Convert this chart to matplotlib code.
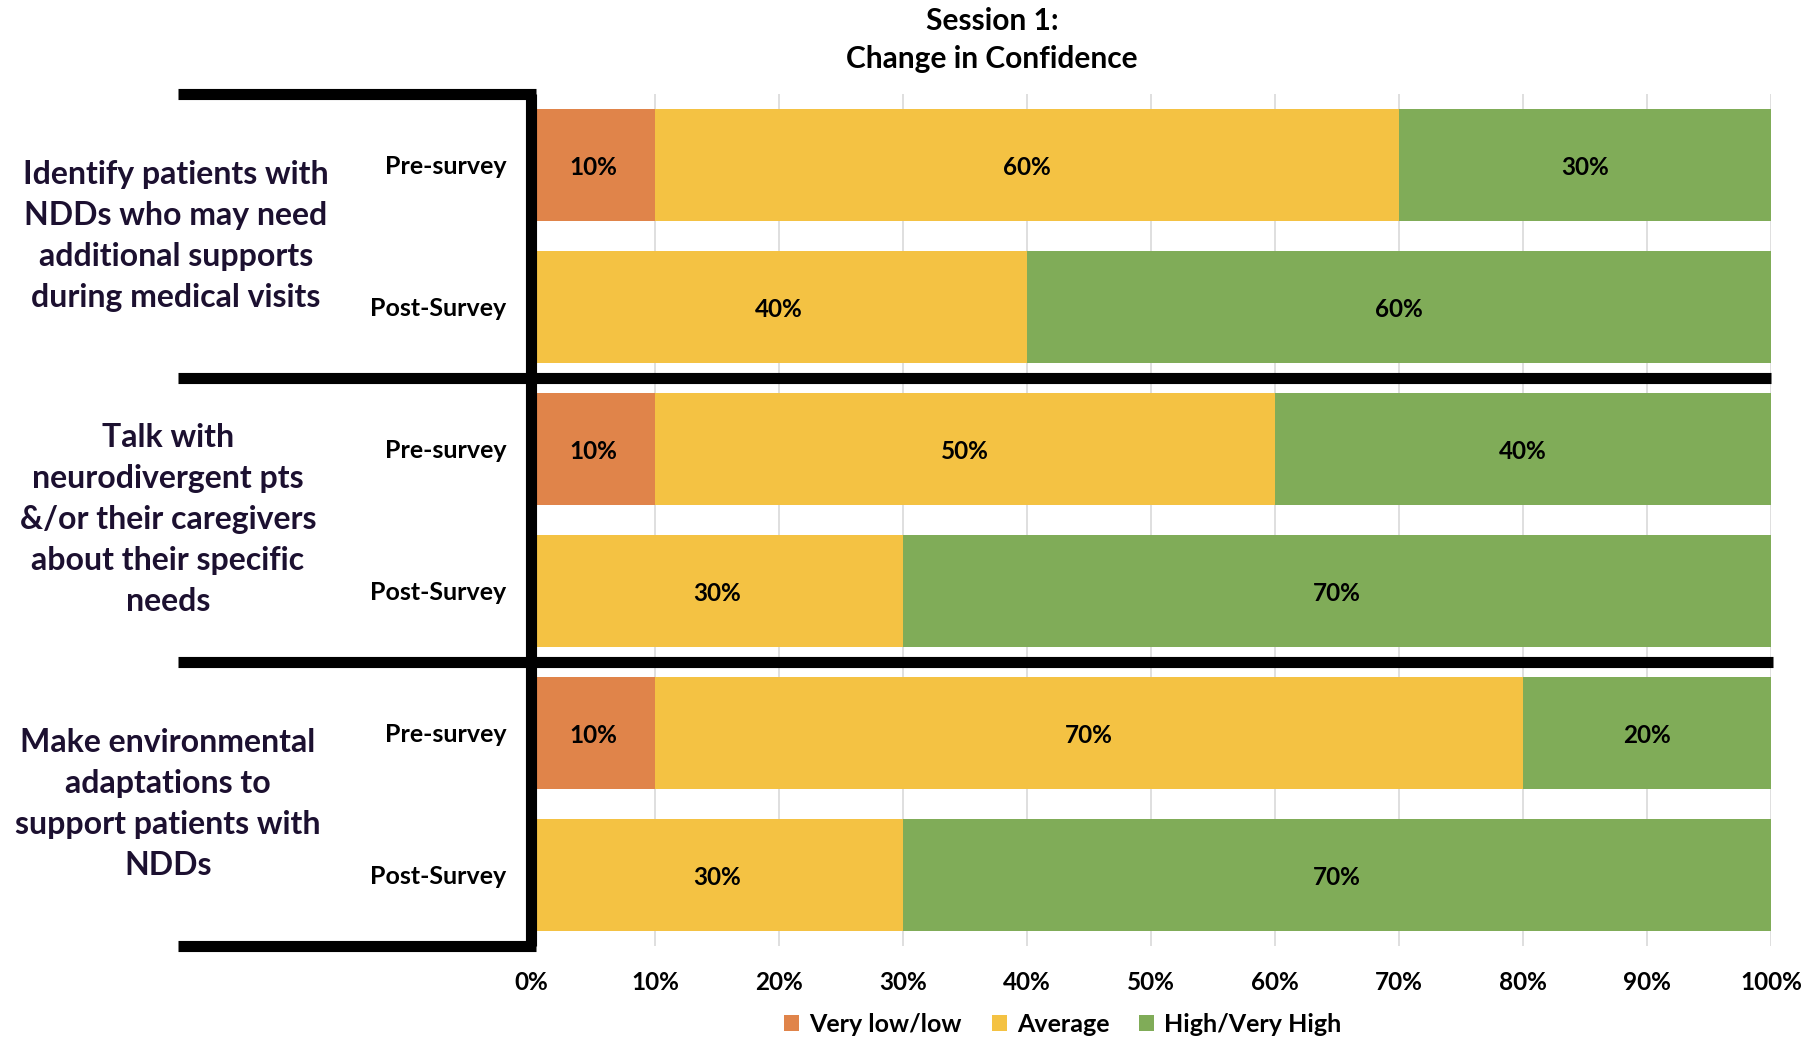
import matplotlib
matplotlib.use("Agg")
import matplotlib.pyplot as plt
from matplotlib.patches import Patch
from matplotlib.lines import Line2D
import matplotlib.transforms as mtransforms

plt.rcParams['font.family'] = ['Lato', 'DejaVu Sans']

# Data
categories = [
    "Identify patients with\nNDDs who may need\nadditional supports\nduring medical visits",
    "Talk with\nneurodivergent pts\n&/or their caregivers\nabout their specific\nneeds",
    "Make environmental\nadaptations to\nsupport patients with\nNDDs",
]
survey_labels = ["Pre-survey", "Post-Survey", "Pre-survey", "Post-Survey", "Pre-survey", "Post-Survey"]
very_low = [10, 0, 10, 0, 10, 0]
average = [60, 40, 50, 30, 70, 30]
high = [30, 60, 40, 70, 20, 70]
series_names = ["Very low/low", "Average", "High/Very High"]
x_ticks = [0, 10, 20, 30, 40, 50, 60, 70, 80, 90, 100]

colors = ["#E0844A", "#F4C243", "#80AC58"]

fig = plt.figure(figsize=(18.05, 10.38), dpi=100)
ax = fig.add_axes([531 / 1805, 1 - 946 / 1038, 1240 / 1805, 852 / 1038])

y = list(range(len(survey_labels)))
left = [0] * len(y)
for vals, col in zip([very_low, average, high], colors):
    ax.barh(y, vals, left=left, height=0.79, color=col, zorder=2)
    for yi, v, l in zip(y, vals, left):
        if v > 0:
            ax.text(l + v / 2, yi + 0.02, f"{v}%", ha="center", va="center",
                    fontsize=17.5, fontweight="bold", color="black", zorder=3)
    left = [a + b for a, b in zip(left, vals)]

ax.set_xlim(0, 100)
ax.set_ylim(len(y) - 0.5, -0.5)
ax.set_xticks(x_ticks)
ax.set_xticklabels([f"{t}%" for t in x_ticks], fontsize=17.5, fontweight="bold")
ax.set_yticks(y)
ax.set_yticklabels(survey_labels, fontsize=18, fontweight="bold")
ax.tick_params(axis="both", length=0)
ax.tick_params(axis="y", pad=17.5)
ax.tick_params(axis="x", pad=18)
ax.grid(axis="x", color="#D9D9D9", linewidth=1.2, zorder=0)
ax.set_axisbelow(True)
for s in ax.spines.values():
    s.set_visible(False)

# Bracket lines around the category groups
lw = 8
xl = -0.2847
blend = mtransforms.blended_transform_factory(ax.transAxes, ax.transData)
lines = [
    Line2D([xl, 0.004], [1, 1], transform=ax.transAxes),
    Line2D([xl, 0.004], [0, 0], transform=ax.transAxes),
    Line2D([0, 0], [0, 1], transform=ax.transAxes),
    Line2D([xl, 1.0], [1.5, 1.5], transform=blend),
    Line2D([xl, 1.002], [3.5, 3.5], transform=blend),
]
for ln in lines:
    ln.set_color("black")
    ln.set_linewidth(lw)
    ln.set_solid_capstyle("butt")
    ln.set_clip_on(False)
    ln.set_zorder(5)
    ax.add_line(ln)

# Category labels
cat_x = [-0.2863, -0.2927, -0.2927]
cat_y = [0.5, 2.5, 4.5]
for txt, cx, cy in zip(categories, cat_x, cat_y):
    ax.text(cx, cy, txt, transform=blend, ha="center", va="center",
            fontsize=23, fontweight="bold", color="#1C1030",
            linespacing=1.5, multialignment="center")

# Title
fig.text(992 / 1805, 1 - 40 / 1038, "Session 1:\nChange in Confidence",
         ha="center", va="center", fontsize=21.5, fontweight="bold",
         linespacing=1.45)

# Legend
handles = [Patch(facecolor=c, edgecolor="none") for c in colors]
fig.legend(handles, series_names, loc="center", ncol=3,
           bbox_to_anchor=(1063 / 1805, 1 - 1024 / 1038), frameon=False,
           prop={"size": 18, "weight": "bold"}, handlelength=0.6,
           handleheight=0.6, handletextpad=0.4, columnspacing=1.2)

fig.savefig("out.png", dpi=100)
